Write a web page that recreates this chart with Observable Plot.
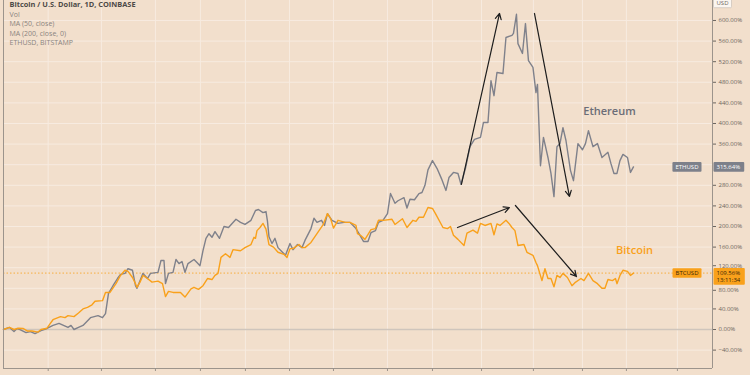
<!DOCTYPE html>
<html><head><meta charset="utf-8">
<script src="https://cdn.jsdelivr.net/npm/d3@7"></script>
<script src="https://cdn.jsdelivr.net/npm/@observablehq/plot@0.6"></script>
<style>
html,body{margin:0;padding:0;background:#f2dfcc;}
#chart{width:750px;height:375px;overflow:hidden;position:relative;}
</style></head><body><div id="chart"></div>
<script>
// ---- data (day index from left edge, % change) ----
const btcDays = [0,4,7,10,13,16,19,23,25,29,
  31,33,38,41,43,47,50,53,56,59,
  61,66,68,71,75,78,81,83,86,88,
  89,91,93,96,99,103,106,108,110,113,
  118,121,125,127,130,133,136,139,141,143,
  145,148,151,153,158,161,165,167,168,169,
  171,173,175,177,180,183,187,189,191,193,
  197,199,201,205,209,213,216,218,220,223,
  228,231,235,236,238,241,245,248,250,253,
  259,261,266,269,273,275,277,280,283,286,
  288,293,296,298,300,303,307,309,313,316,
  318,321,325,327,329,331,335,337,339,341,
  343,347,349,353,355,356,359,361,363,365,
  367,369,371,373,376,379,381,385,387,390,
  393,396,399,401,403,406,408,409,411,413,
  416,418,420];
const btcPct = [0,4,0,2.5,2,-3,-3,-5,0,2.5,
  11,19,25,23,27,25,32,40,43,48,
  55,56,72,72,89,105,115,113,101,89,
  82,92,105,99,92,94,89,64,74,72,
  72,63,79,82,78,85,99,97,105,109,
  140,147,140,155,153,159,165,179,177,192,
  198,206,195,165,160,150,146,140,157,157,
  165,159,159,169,186,203,225,216,197,212,
  208,208,202,186,183,175,194,196,212,212,
  214,204,215,198,212,210,218,218,237,235,
  225,198,196,200,183,175,163,187,193,187,
  206,202,206,184,205,202,212,206,198,192,
  163,165,150,144,130,124,95,118,99,99,
  83,105,101,109,101,85,91,99,95,109,
  95,89,80,80,97,95,99,89,105,115,
  113,105,109.56];
const ethDays = [0,4,7,9,11,15,18,21,25,29,
  33,37,40,43,45,47,50,53,58,63,
  66,68,70,73,76,78,81,83,86,88,
  89,93,96,98,103,105,107,108,110,113,
  115,117,119,121,123,127,129,131,133,135,
  137,139,141,144,147,150,155,158,161,165,
  168,170,173,175,176,177,179,181,183,186,
  188,191,193,196,199,201,205,207,209,212,
  214,216,219,223,227,231,235,237,240,243,
  245,248,250,253,256,258,261,263,267,269,
  271,274,277,279,281,283,286,289,292,295,
  297,300,303,305,308,311,314,318,320,323,
  325,327,329,333,335,339,340,342,343,346,
  348,350,353,355,356,358,360,363,365,367,
  369,371,373,375,378,380,383,386,388,390,
  393,396,399,403,405,407,409,411,413,416,
  418,420];
const ethPct = [0,4,-4,2,0,-6,-4,-8,-2,2,
  8,12,8,4,8,0,4,8,23,27,
  23,31,70,85,99,107,109,118,115,85,
  80,109,99,109,111,134,134,89,109,111,
  136,128,132,111,128,136,130,124,153,177,
  186,179,190,177,200,198,214,208,204,212,
  231,233,227,229,210,180,167,177,159,150,
  144,167,155,165,159,173,196,216,208,212,
  202,225,212,206,208,208,196,186,171,171,
  188,192,208,212,225,264,245,250,256,236,
  253,252,264,266,280,310,328,313,293,270,
  295,305,303,282,313,355,369,373,402,402,
  483,454,499,497,567,571,575,612,555,536,
  594,522,509,460,476,318,373,334,303,258,
  355,361,392,367,309,289,361,349,361,386,
  355,361,334,344,322,303,303,328,340,334,
  305,315.64];

const xDomain = [0, 472.7];
const yDomain = [-75.7, 638.8];
const xTicks = [29.8, 65.3, 101.3, 131.3, 161.3, 190.7, 220, 256, 286, 318.7, 353.3, 386, 415.3, 449.3];
const yTicks = [-40, 0, 40, 80, 120, 160, 200, 240, 280, 320, 360, 400, 440, 480, 520, 560, 600];

const titleText = "Bitcoin / U.S. Dollar, 1D, COINBASE";
const legendLines = ["Vol", "MA (50, close)", "MA (200, close, 0)", "ETHUSD, BITSTAMP"];

const seriesNames = ["Ethereum", "Bitcoin"];
const seriesLabelDay = [404, 420.7];
const seriesLabelPct = [423, 153];

const arrowX1 = [305.3, 354, 302.7, 341.3];
const arrowY1 = [281.6, 613.6, 198, 240.8];
const arrowX2 = [330.7, 377.3, 337.3, 382];
const arrowY2 = [613.6, 258.3, 236.9, 102.9];

const btcTag = "BTCUSD", ethTag = "ETHUSD";
const btcLast = 109.56, ethLast = 315.64;
const btcTime = "13:11:34";
const unitText = "USD";

// ---- styles ----
const BG = "#f2dfcc";
const GRID = "#f7ebe0";
const ETH = "#7f818b";
const BTC = "#f9a11b";
const AXIS = "#9c948c";
const FONT = "'Open Sans', 'Liberation Sans', sans-serif";

const idx = a => a.map((_, i) => i);
const fmtPct = d => (d < 0 ? "\u2212" + Math.abs(d).toFixed(2) : d.toFixed(2)) + "%";
const ethVal = ethLast.toFixed(2) + "%";
const btcVal = btcLast.toFixed(2) + "%";

// axis labels hidden behind the price tags (as the reference does)
const hiddenTicks = [80, 120, 320];
const shownTicks = yTicks.filter(d => !hiddenTicks.includes(d));

const plot = Plot.plot({
  width: 750, height: 375,
  marginLeft: 3, marginRight: 38, marginTop: 0, marginBottom: 7,
  style: {background: BG, fontFamily: FONT, overflow: "visible"},
  x: {domain: xDomain, axis: null},
  y: {domain: yDomain, axis: null},
  marks: [
    Plot.gridX(xTicks, {stroke: GRID, strokeOpacity: 1, strokeWidth: 1}),
    Plot.gridY(yTicks, {stroke: GRID, strokeOpacity: 1, strokeWidth: 1}),
    Plot.ruleY([0], {stroke: "#cfc5bc", strokeWidth: 1.3}),
    Plot.ruleY([btcLast], {stroke: BTC, strokeDasharray: "1.5,2", strokeWidth: 0.8}),
    Plot.line(idx(ethDays), {x: i => ethDays[i], y: i => ethPct[i], stroke: ETH, strokeWidth: 1.4}),
    Plot.line(idx(btcDays), {x: i => btcDays[i], y: i => btcPct[i], stroke: BTC, strokeWidth: 1.4}),
    Plot.arrow(idx(arrowX1), {x1: i => arrowX1[i], y1: i => arrowY1[i], x2: i => arrowX2[i], y2: i => arrowY2[i],
      stroke: "#1e1e1e", strokeWidth: 1.2, headLength: 8, headAngle: 55}),
    Plot.text(idx(seriesNames), {x: i => seriesLabelDay[i], y: i => seriesLabelPct[i], text: i => seriesNames[i],
      fill: i => i === 0 ? "#6b6d77" : BTC, fontSize: 11, fontWeight: 600}),
    Plot.ruleX([xDomain[0]], {stroke: AXIS, strokeWidth: 1}),
    Plot.ruleX([xDomain[1]], {stroke: AXIS, strokeWidth: 1}),
    Plot.ruleY([yDomain[0]], {stroke: AXIS, strokeWidth: 1}),
    Plot.axisY(shownTicks, {anchor: "right", tickSize: 3, tickPadding: 3, tickFormat: fmtPct, fontSize: 6, color: "#6c6660", label: null}),
    Plot.axisY([120], {anchor: "right", tickSize: 3, tickPadding: 3, tickFormat: fmtPct, fontSize: 6, color: "#6c6660", label: null, dy: -2}),
    Plot.axisY([80], {anchor: "right", tickSize: 3, tickPadding: 3, tickFormat: fmtPct, fontSize: 6, color: "#6c6660", label: null, dy: 2}),
    Plot.axisX(xTicks, {anchor: "bottom", tickSize: 3, tickFormat: () => "", color: AXIS, label: null}),
    Plot.text([titleText], {frameAnchor: "top-left", dx: 6, dy: 4, lineAnchor: "middle", textAnchor: "start",
      fontSize: 7.4, fontWeight: 700, fill: "#4d4a47"}),
    Plot.text([legendLines.join("\n")], {frameAnchor: "top-left", dx: 6, dy: 10, lineAnchor: "top", textAnchor: "start",
      fontSize: 7, lineHeight: 1.33, fill: "#8a847f"}),
    // price tags
    Plot.text([ethLast], {y: d => d, frameAnchor: "right", dx: -14, text: () => ethTag, fontSize: 6, fill: "#fff"}),
    Plot.text([ethLast], {y: d => d, frameAnchor: "right", dx: 4, textAnchor: "start", text: () => ethVal, fontSize: 6, fill: "#fff"}),
    Plot.text([btcLast], {y: d => d, frameAnchor: "right", dx: -14, text: () => btcTag, fontSize: 6, fill: "#3a2608"}),
    Plot.text([btcLast], {y: d => d, frameAnchor: "right", dx: 4, dy: -3.5, lineAnchor: "top", textAnchor: "start", lineHeight: 1.2,
      text: () => btcVal + "\n" + btcTime, fontSize: 6, fill: "#3a2608"}),
    Plot.text([unitText], {frameAnchor: "top-right", dx: 16, dy: 2.5, lineAnchor: "middle", fontSize: 6, fill: "#6c6660"})
  ]
});

document.getElementById("chart").appendChild(plot);

const boxSpecs = [
  {match: ethTag, fill: "#7d808a", pad: [3, 3, 0.8, 0.8]},
  {match: ethVal, fill: "#7d808a", pad: [3, 4, 0.8, 0.8]},
  {match: btcTag, fill: "#f9a11b", pad: [3, 3, 0.8, 0.8]},
  {match: btcVal + btcTime, fill: "#f9a11b", pad: [3, 4, 0.8, 0.8]},
  {match: unitText, fill: "#fbf6f1", pad: [3, 3, 2, 0.8], stroke: "#c9c0b8"}
];
plot.querySelectorAll("text").forEach(t => {
  const spec = boxSpecs.find(s => s.match === t.textContent);
  if (!spec) return;
  const b = t.getBBox();
  const [pl, pr, pt, pb] = spec.pad;
  const r = document.createElementNS("http://www.w3.org/2000/svg", "rect");
  r.setAttribute("x", b.x - pl);
  r.setAttribute("y", b.y - pt);
  r.setAttribute("width", b.width + pl + pr);
  r.setAttribute("height", b.height + pt + pb);
  r.setAttribute("rx", 1);
  r.setAttribute("fill", spec.fill);
  r.style.fill = spec.fill;
  if (spec.stroke) { r.setAttribute("stroke", spec.stroke); r.setAttribute("stroke-width", 0.7); r.style.stroke = spec.stroke; }
  const tr = t.getAttribute("transform");
  if (tr) r.setAttribute("transform", tr);
  t.parentNode.insertBefore(r, t);
});
</script>
</body></html>
